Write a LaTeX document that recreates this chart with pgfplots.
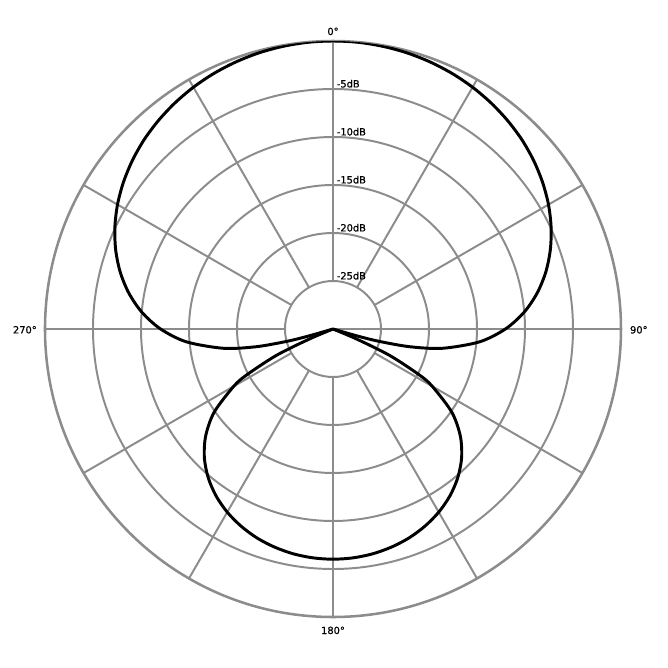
\documentclass[border=0pt]{standalone}
\usepackage{pgfplots}
\pgfplotsset{compat=1.18}
\usepackage{pgfplotstable}
\usepgfplotslibrary{polar}
\usepackage{fontspec}
\setmainfont{DejaVu Sans}[FakeBold=0.6]

\definecolor{gridgray}{RGB}{140,140,140}

% polar response: compass angle (0 = front, clockwise) and level in dB
% front lobe, null to null
\pgfplotstableread{
angle db
-107 -30
-106 -27.28
-105 -25.05
-103 -21.80
-100 -18.43
-95 -14.67
-90 -12.04
-85 -10.02
-80 -8.40
-75 -7.05
-70 -5.91
-65 -4.93
-60 -4.08
-55 -3.35
-50 -2.71
-45 -2.15
-40 -1.68
-35 -1.27
-30 -0.92
-25 -0.63
-20 -0.40
-15 -0.22
-10 -0.10
-5 -0.02
0 0
5 -0.02
10 -0.10
15 -0.22
20 -0.40
25 -0.63
30 -0.92
35 -1.27
40 -1.68
45 -2.15
50 -2.71
55 -3.35
60 -4.08
65 -4.93
70 -5.91
75 -7.05
80 -8.40
85 -10.02
90 -12.04
95 -14.67
100 -18.43
103 -21.80
105 -25.05
106 -27.28
107 -30
}\front

% rear lobe, null to null
\pgfplotstableread{
angle db
112 -30
113 -27.32
115 -23.48
118 -19.82
120 -18.06
125 -14.89
130 -12.69
135 -11.05
140 -9.78
145 -8.77
150 -7.97
155 -7.34
160 -6.84
165 -6.48
170 -6.22
175 -6.07
180 -6.02
185 -6.07
190 -6.22
195 -6.48
200 -6.84
205 -7.34
210 -7.97
215 -8.77
220 -9.78
225 -11.05
230 -12.69
235 -14.89
240 -18.06
242 -19.82
245 -23.48
247 -27.32
248 -30
}\rear

\begin{document}
\begin{tikzpicture}
\begin{polaraxis}[
    at={(0,0)}, anchor=center,
    scale only axis, width=14.4cm, height=14.4cm,
    ymin=0, ymax=30,
    xtick=\empty,
    ytick={5,10,15,20,25},
    yticklabels=\empty,
    major tick length=0pt,
    ymajorgrids=true,
    grid style={gridgray, line width=1.4pt},
    axis line style={gridgray, line width=1.8pt},
    pattern/.style={black, line width=2.1pt, smooth, tension=0.5,
        x filter/.expression={90-x}, y filter/.expression={y+30}},
]
    % spokes every 30 degrees, from the inner ring to the rim
    \pgfplotsinvokeforeach{0,30,...,330}{
        \addplot[gridgray, line width=1.4pt] coordinates {(#1,5) (#1,30)};
    }
    \addplot[pattern] table[x=angle, y=db] {\front};
    \addplot[pattern] table[x=angle, y=db] {\rear};
\end{polaraxis}

\begin{scope}[font=\fontsize{7}{8}\selectfont, inner sep=0pt]
    \node[anchor=base] at (0,7.35) {0°};
    \node[anchor=base] at (0,-7.625) {180°};
    \node[anchor=base east] at (-7.4,-0.11) {270°};
    \node[anchor=base west] at (7.42,-0.11) {90°};
    \node[anchor=base west] at (0.09,6.04) {-5dB};
    \node[anchor=base west] at (0.09,4.84) {-10dB};
    \node[anchor=base west] at (0.09,3.64) {-15dB};
    \node[anchor=base west] at (0.09,2.44) {-20dB};
    \node[anchor=base west] at (0.09,1.24) {-25dB};
\end{scope}

\pgfresetboundingbox
\path (-8.325,-8.475) rectangle (8.375,8.225);
\end{tikzpicture}
\end{document}
